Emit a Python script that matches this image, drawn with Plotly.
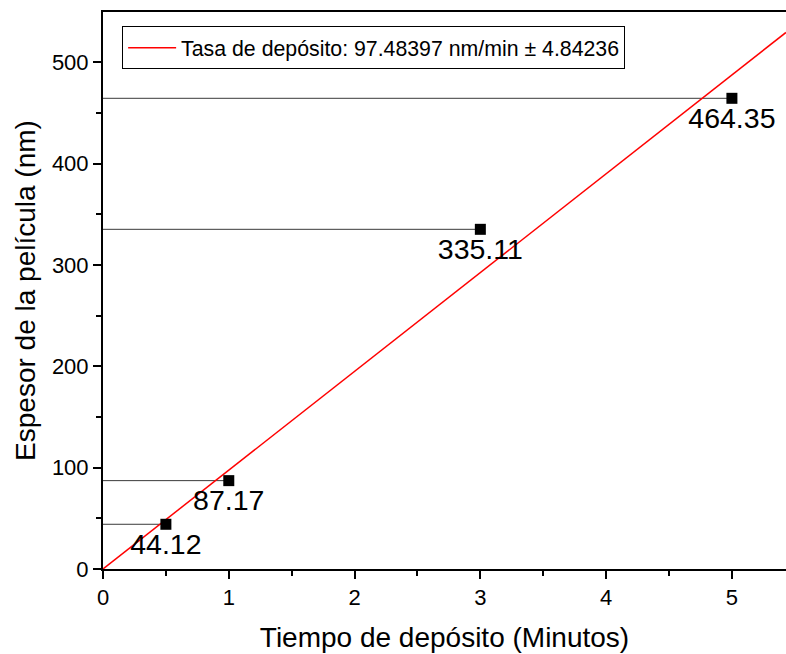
import numpy as np
import plotly.graph_objects as go

# Measured film thickness vs deposition time
tiempo = [0.5, 1.0, 3.0, 5.0]
espesor = [44.12, 87.17, 335.11, 464.35]
etiquetas = ["44.12", "87.17", "335.11", "464.35"]

# Linear fit through origin
tasa = 97.48397
error = 4.84236
x_range = [0, 5.43]
y_range = [0, 549.5]

font_family = "Liberation Sans, Arial, sans-serif"

fig = go.Figure()

# Horizontal guide lines from the y axis to each point
for xi, yi in zip(tiempo, espesor):
    fig.add_trace(go.Scatter(
        x=[0, xi], y=[yi, yi], mode="lines",
        line=dict(color="#3a3a3a", width=1),
        showlegend=False, hoverinfo="skip",
    ))

# Fitted line
fit_x = np.array(x_range)
fig.add_trace(go.Scatter(
    x=fit_x, y=tasa * fit_x, mode="lines",
    line=dict(color="#ff0000", width=1.5),
    name=f"Tasa de depósito: {tasa} nm/min ± {error}",
    showlegend=True,
))

# Data points with value labels
fig.add_trace(go.Scatter(
    x=tiempo, y=espesor, mode="markers+text",
    marker=dict(symbol="square", size=11, color="black"),
    text=etiquetas, textposition="bottom center",
    textfont=dict(size=28.5, color="black", family=font_family),
    showlegend=False,
))

axis_common = dict(
    showgrid=False, zeroline=False,
    showline=True, linecolor="black", linewidth=2,
    ticks="outside", ticklen=8, tickwidth=1.5, tickcolor="black",
    tickfont=dict(size=22, color="black", family=font_family),
)

fig.update_xaxes(
    range=x_range, dtick=1, mirror=True,
    minor=dict(ticks="outside", ticklen=5, tickwidth=1.5, dtick=0.5, tickcolor="black"),
    title=dict(text="Tiempo de depósito (Minutos)",
               font=dict(size=28, color="black", family=font_family), standoff=18),
    **axis_common,
)
fig.update_yaxes(
    range=y_range, dtick=100,
    minor=dict(ticks="outside", ticklen=5, tickwidth=1.5, dtick=50, tickcolor="black"),
    title=dict(text="Espesor de la película (nm)",
               font=dict(size=28, color="black", family=font_family), standoff=8),
    **axis_common,
)

fig.update_layout(
    width=786, height=654,
    margin=dict(l=103, r=0, t=12, b=85),
    paper_bgcolor="white", plot_bgcolor="white",
    legend=dict(
        x=0.028, y=0.974, xanchor="left", yanchor="top",
        bordercolor="black", borderwidth=1, bgcolor="white",
        itemwidth=48,
        font=dict(size=21.3, color="black", family=font_family),
    ),
)

fig.write_html("out.html")
